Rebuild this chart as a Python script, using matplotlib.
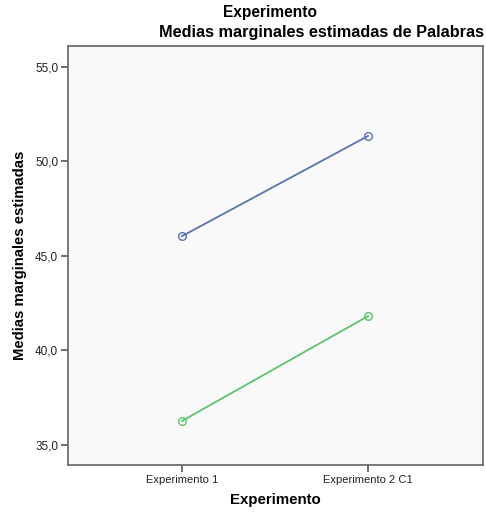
import matplotlib
matplotlib.use("Agg")
import matplotlib.pyplot as plt

plt.rcParams['font.family'] = ['Liberation Sans', 'DejaVu Sans']

categories = ["Experimento 1", "Experimento 2 C1"]
serie_azul = [46.05, 51.35]
serie_verde = [36.27, 41.82]
yticks = [35.0, 40.0, 45.0, 50.0, 55.0]
ytick_labels = ["35,0", "40,0", "45,0", "50,0", "55,0"]

fig = plt.figure(figsize=(4.86, 5.16), dpi=100)
ax = fig.add_axes([68/486, 1 - 465/516, (483-68)/486, (465-46)/516])
ax.set_facecolor("#f9f9f9")

x = list(range(len(categories)))
ax.plot(x, serie_azul, color="#5a73b4", lw=1.3, marker="o", markersize=5.5,
        markerfacecolor="none", markeredgecolor="#5a73b4", markeredgewidth=1.0)
ax.plot(x, serie_verde, color="#5cc46a", lw=1.3, marker="o", markersize=5.5,
        markerfacecolor="none", markeredgecolor="#5cc46a", markeredgewidth=1.0)

ax.set_xlim(-0.613, 1.618)
ax.set_ylim(33.94, 56.11)
ax.set_xticks(x)
ax.set_xticklabels(categories, fontsize=8, color="#222222")
ax.set_yticks(yticks)
ax.set_yticklabels(ytick_labels, fontsize=8.5, color="#222222")
ax.tick_params(direction="out", length=5, width=1.2, color="#555555", pad=2)

for s in ax.spines.values():
    s.set_color("#6e6e6e")
    s.set_linewidth(1.3)

ax.set_xlabel("Experimento", fontsize=10.8, fontweight="bold", labelpad=6)
ax.set_ylabel("Medias marginales estimadas", fontsize=10.7, fontweight="bold")
ax.yaxis.set_label_coords((27 - 68) / 415, 0.5)

fig.text(270/486, 1 - 13/516, "Experimento", ha="center", va="center",
         fontsize=11.2, fontweight="bold")
fig.text(321/486, 1 - 33/516, "Medias marginales estimadas de Palabras", ha="center",
         va="center", fontsize=11.7, fontweight="bold")

fig.savefig("out.png", dpi=100, facecolor="white")
